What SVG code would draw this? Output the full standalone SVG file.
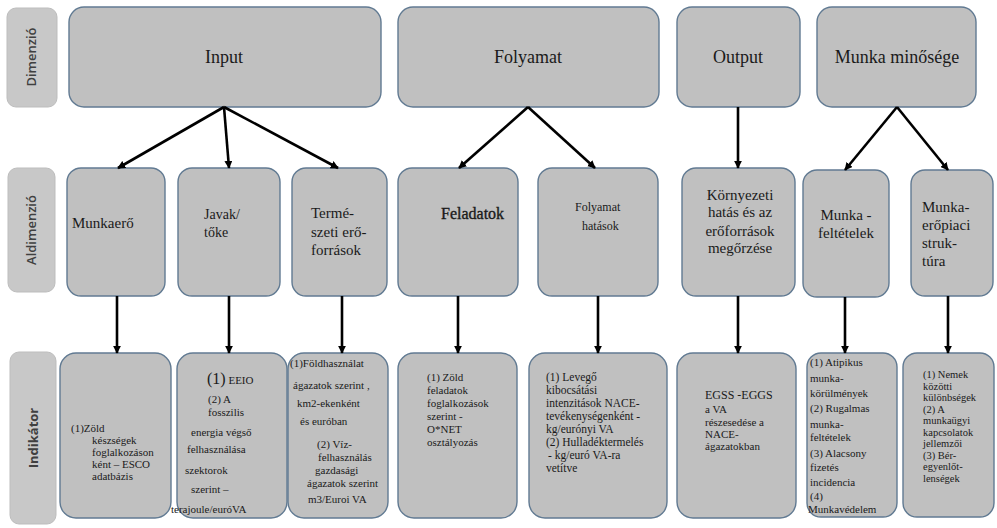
<svg xmlns="http://www.w3.org/2000/svg" width="997" height="528" viewBox="0 0 997 528">
<style>
.lbl{fill:#c8c8c8;stroke:#bdbdbd;stroke-width:1}
.lt{font-family:"Open Sans","Liberation Sans",sans-serif;font-size:13px;fill:#404040;font-weight:600;text-anchor:middle}
.box{fill:#c0c0c0;stroke:#617a92;stroke-width:1.4}
.t{font-family:"Liberation Serif","Times New Roman",serif;fill:#1a1a1a}
.top{font-size:18px;text-anchor:middle}
.mid{font-size:15px}
.s{font-size:11px}
.c{text-anchor:middle}
.con line{stroke:#000;stroke-width:2.6;marker-end:url(#ah)}
</style>
<defs>
<marker id="ah" viewBox="0 0 10 10" refX="9" refY="5" markerWidth="8" markerHeight="8" markerUnits="userSpaceOnUse" orient="auto">
<path d="M0,0 L10,5 L0,10 z" fill="#000"/>
</marker>
</defs>
<rect width="997" height="528" fill="#fff"/>

<g id="lbl-dimenzio"><rect class="lbl" x="7" y="8" width="50" height="99" rx="9"/><text class="lt" transform="translate(36,57) rotate(-90)">Dimenzió</text></g>
<g id="lbl-aldimenzio"><rect class="lbl" x="8" y="168" width="47" height="124" rx="9"/><text class="lt" transform="translate(36,230) rotate(-90)">Aldimenzió</text></g>
<g id="lbl-indikator"><rect class="lbl" x="10" y="352" width="46" height="172" rx="9"/><text class="lt" transform="translate(38,438) rotate(-90)" style="font-weight:700">Indikátor</text></g>

<g id="n-input"><rect class="box" x="69" y="7" width="312" height="100" rx="15"/><text class="t top" x="224" y="63">Input</text></g>
<g id="n-folyamat"><rect class="box" x="398" y="7" width="261" height="100" rx="15"/><text class="t top" x="528" y="63">Folyamat</text></g>
<g id="n-output"><rect class="box" x="677" y="7" width="123" height="100" rx="15"/><text class="t top" x="738" y="63">Output</text></g>
<g id="n-munkaminoseg"><rect class="box" x="817" y="7" width="159" height="100" rx="15"/><text class="t top" x="897" y="63">Munka minősége</text></g>

<g id="n-munkaero"><rect class="box" x="67" y="168" width="98" height="128" rx="14"/><text class="t mid" x="72" y="228">Munkaerő</text></g>
<g id="n-javak"><rect class="box" x="178" y="168" width="102" height="128" rx="14"/><text class="t" font-size="14" x="204" y="219">Javak/</text><text class="t" font-size="14" x="204" y="237">tőke</text></g>
<g id="n-termeszeti"><rect class="box" x="292" y="168" width="95" height="128" rx="14"/><text class="t mid" x="311" y="218">Termé-</text><text class="t mid" x="311" y="237">szeti erő-</text><text class="t mid" x="311" y="255">források</text></g>
<g id="n-feladatok"><rect class="box" x="398" y="168" width="120" height="128" rx="14"/><text class="t" font-size="16" x="441" y="219" stroke="#1a1a1a" stroke-width="0.35">Feladatok</text></g>
<g id="n-folyamathatasok"><rect class="box" x="538" y="168" width="120" height="128" rx="14"/><text class="t" font-size="12" x="575" y="211">Folyamat</text><text class="t" font-size="12" x="582" y="230">hatások</text></g>
<g id="n-kornyezeti"><rect class="box" x="682" y="168" width="113" height="128" rx="14"/><text class="t mid c" x="740" y="200">Környezeti</text><text class="t mid c" x="740" y="217">hatás és az</text><text class="t mid c" x="740" y="236">erőforrások</text><text class="t mid c" x="740" y="253">megőrzése</text></g>
<g id="n-munkafeltetelek"><rect class="box" x="803" y="170" width="86" height="127" rx="14"/><text class="t mid c" x="846" y="220">Munka -</text><text class="t mid c" x="846" y="238">feltételek</text></g>
<g id="n-munkaeropiaci"><rect class="box" x="911" y="170" width="82" height="126" rx="14"/><text class="t mid" x="922" y="212">Munka-</text><text class="t mid" x="922" y="230">erőpiaci</text><text class="t mid" x="922" y="248">struk-</text><text class="t mid" x="922" y="266">túra</text></g>

<g id="i-munkaero"><rect class="box" x="60" y="353" width="111" height="165" rx="16"/>
<g class="t s"><text x="71" y="432">(1)Zöld</text><text x="92" y="444">készségek</text><text x="92" y="456">foglalkozáson</text><text x="92" y="468">ként –  ESCO</text><text x="92" y="480">adatbázis</text></g></g>
<g id="i-javak"><rect class="box" x="177" y="353" width="110" height="165" rx="16"/>
<g class="t s"><text x="207" y="384"><tspan font-size="16">(1)</tspan> EEIO</text><text x="208" y="403">(2) A</text><text x="208" y="416">fosszilis</text><text x="191" y="436">energia végső</text><text x="187" y="453">felhasználása</text><text x="185" y="474">szektorok</text><text x="191" y="493">szerint –</text><text x="171" y="513">terajoule/euróVA</text></g></g>
<g id="i-termeszeti"><rect class="box" x="288" y="353" width="100" height="165" rx="16"/>
<g class="t s"><text x="290" y="367">(1)Földhasználat</text><text x="293" y="389">ágazatok szerint ,</text><text x="297" y="407">km2-ekenként</text><text x="300" y="425">és euróban</text><text x="317" y="448">(2) Víz-</text><text x="318" y="461">felhasználás</text><text x="315" y="474">gazdasági</text><text x="307" y="487">ágazatok szerint</text><text x="308" y="503">m3/Euroi VA</text></g></g>
<g id="i-feladatok"><rect class="box" x="398" y="353" width="119" height="165" rx="16"/>
<g class="t s"><text x="427" y="381">(1) Zöld</text><text x="427" y="394">feladatok</text><text x="427" y="407">foglalkozások</text><text x="427" y="420">szerint -</text><text x="427" y="433">O*NET</text><text x="427" y="446">osztályozás</text></g></g>
<g id="i-folyamathatasok"><rect class="box" x="529" y="353" width="138" height="165" rx="16"/>
<g class="t" font-size="11.5"><text x="546" y="381">(1) Levegő</text><text x="546" y="394">kibocsátási</text><text x="546" y="407">intenzitások NACE-</text><text x="546" y="420">tevékenységenként -</text><text x="546" y="433">kg/eurónyi VA</text><text x="546" y="446">(2) Hulladéktermelés</text><text x="548" y="459"> - kg/euró VA-ra</text><text x="546" y="472">vetítve</text></g></g>
<g id="i-kornyezeti"><rect class="box" x="677" y="353" width="119" height="165" rx="16"/>
<g class="t s"><text x="705" y="399" font-size="12">EGSS -EGGS</text><text x="705" y="413">a VA</text><text x="705" y="426">részesedése a</text><text x="705" y="438">NACE-</text><text x="705" y="450">ágazatokban</text></g></g>
<g id="i-munkafeltetelek"><rect class="box" x="807" y="353" width="90" height="164" rx="14"/>
<g class="t s"><text x="810" y="366">(1) Atipikus</text><text x="810" y="382">munka-</text><text x="810" y="397">körülmények</text><text x="810" y="412">(2) Rugalmas</text><text x="810" y="428">munka-</text><text x="810" y="441">feltételek</text><text x="810" y="457">(3) Alacsony</text><text x="810" y="471">fizetés</text><text x="810" y="486">incidencia</text><text x="810" y="500">(4)</text><text x="808" y="513">Munkavédelem</text></g></g>
<g id="i-munkaeropiaci"><rect class="box" x="903" y="353" width="91" height="164" rx="14"/>
<g class="t" font-size="10.5"><text x="923" y="378">(1) Nemek</text><text x="923" y="389.5">közötti</text><text x="923" y="401">különbségek</text><text x="923" y="412.5">(2) A</text><text x="923" y="424">munkaügyi</text><text x="923" y="435.5">kapcsolatok</text><text x="923" y="447">jellemzői</text><text x="923" y="458.5">(3) Bér-</text><text x="923" y="470">egyenlőt-</text><text x="923" y="481.5">lenségek</text></g></g>

<g id="connectors" class="con">
<line x1="224" y1="107" x2="118" y2="168"/>
<line x1="224" y1="107" x2="229" y2="168"/>
<line x1="224" y1="107" x2="338" y2="168"/>
<line x1="528" y1="107" x2="459" y2="168"/>
<line x1="528" y1="107" x2="595" y2="168"/>
<line x1="738" y1="107" x2="738" y2="168"/>
<line x1="897" y1="107" x2="845" y2="170"/>
<line x1="897" y1="107" x2="948" y2="170"/>
<line x1="117" y1="296" x2="117" y2="353"/>
<line x1="229" y1="296" x2="229" y2="353"/>
<line x1="342" y1="296" x2="342" y2="353"/>
<line x1="458" y1="296" x2="458" y2="353"/>
<line x1="598" y1="296" x2="598" y2="353"/>
<line x1="738" y1="296" x2="738" y2="353"/>
<line x1="845" y1="297" x2="845" y2="353"/>
<line x1="948" y1="296" x2="948" y2="353"/>
</g>
</svg>
